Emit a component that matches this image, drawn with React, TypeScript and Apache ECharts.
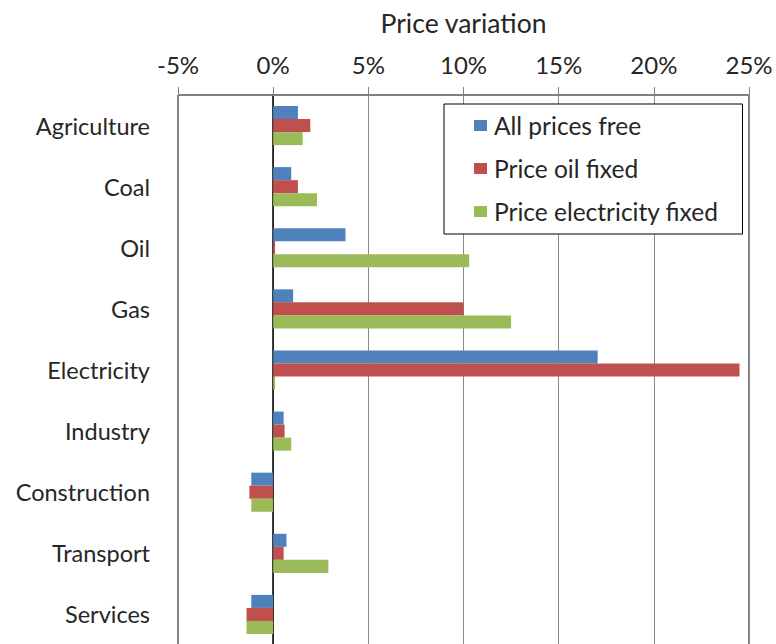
import React, { useEffect, useRef } from "react";
import * as echarts from "echarts";

const categories = ["Agriculture", "Coal", "Oil", "Gas", "Electricity", "Industry", "Construction", "Transport", "Services"];
const seriesNames = ["All prices free", "Price oil fixed", "Price electricity fixed"];
const allPricesFree = [1.3, 0.95, 3.8, 1.05, 17.05, 0.55, -1.15, 0.7, -1.15];
const priceOilFixed = [1.95, 1.3, 0.1, 10.0, 24.5, 0.6, -1.25, 0.55, -1.4];
const priceElectricityFixed = [1.55, 2.3, 10.3, 12.5, 0.1, 0.95, -1.15, 2.9, -1.4];
const colors = ["#4F81BD", "#C0504D", "#9BBB59"];
const xMin = -5;
const xMax = 25;
const xInterval = 5;

const FONT = "Lato";
const TEXT = "#262626";

export default function App() {
  const ref = useRef<HTMLDivElement>(null);
  useEffect(() => {
    if (!ref.current) return;
    const chart = echarts.init(ref.current, undefined, { renderer: "svg" });
    const values = [allPricesFree, priceOilFixed, priceElectricityFixed];
    chart.setOption({
      animation: false,
      backgroundColor: "#fff",
      textStyle: { fontFamily: FONT },
      grid: {
        left: 178,
        right: 27,
        top: 95,
        height: 550,
        show: true,
        borderColor: "#000",
        borderWidth: 1,
        containLabel: false,
        outerBoundsMode: "none",
      },
      legend: {
        orient: "vertical",
        left: 444,
        top: 104,
        backgroundColor: "#fff",
        borderColor: "#000",
        borderWidth: 1,
        padding: [9, 24, 10, 30],
        itemGap: 18,
        itemWidth: 13,
        itemHeight: 11,
        icon: "rect",
        textStyle: { fontFamily: FONT, fontSize: 24.5, color: TEXT, padding: [0, 0, 0, 2] },
        data: seriesNames,
      },
      xAxis: {
        type: "value",
        position: "top",
        min: xMin,
        max: xMax,
        interval: xInterval,
        name: "Price variation",
        nameLocation: "middle",
        nameGap: 59,
        nameTextStyle: { fontFamily: FONT, fontSize: 26.5, color: TEXT },
        axisLine: { show: true, lineStyle: { color: "#808080", width: 1 } },
        axisTick: { show: true, length: 8, inside: false, lineStyle: { color: "#808080" } },
        axisLabel: {
          formatter: "{value}%",
          fontFamily: FONT,
          fontSize: 24,
          color: TEXT,
          margin: 19,
        },
        splitLine: { show: true, lineStyle: { color: "#8a8a8a", width: 1 } },
      },
      yAxis: {
        type: "category",
        inverse: true,
        data: categories,
        axisLine: { show: true, lineStyle: { color: "#000", width: 1.5 } },
        axisTick: { show: false },
        axisLabel: { fontFamily: FONT, fontSize: 23.5, color: TEXT, margin: 28 },
      },
      series: seriesNames.map((name, i) => ({
        name,
        type: "bar",
        data: values[i],
        barGap: "0%",
        barCategoryGap: "36%",
        itemStyle: { color: colors[i] },
      })),
    });
    return () => chart.dispose();
  }, []);
  return <div ref={ref} style={{ position: "absolute", left: 0, top: 0, width: 776, height: 644 }} />;
}
